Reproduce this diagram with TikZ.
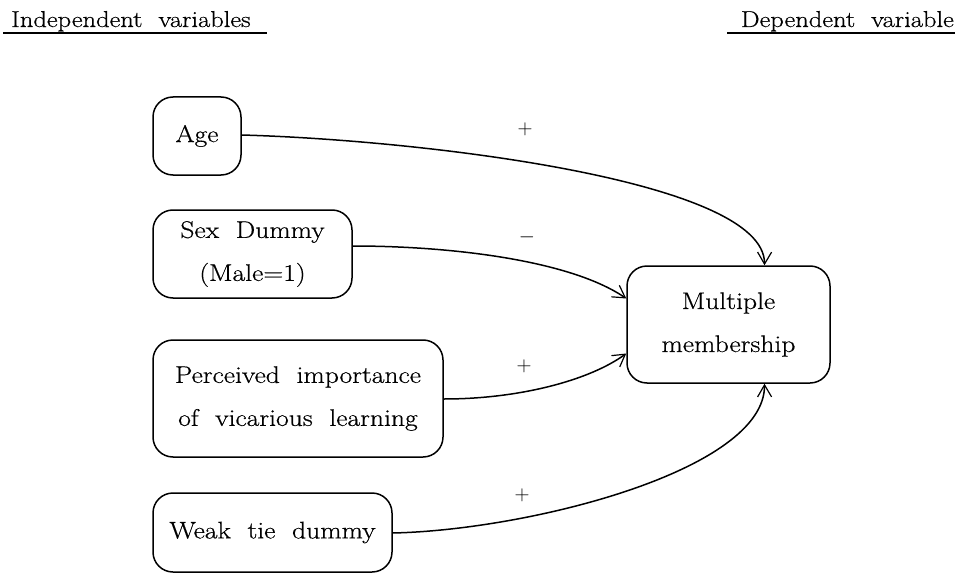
\documentclass[tikz,border=0pt]{standalone}
\usepackage{fontspec}
\setmainfont{Latin Modern Roman}[FakeStretch=1.15,FakeBold=0.6]
\usetikzlibrary{arrows.meta}
\begin{document}
\begin{tikzpicture}[x=1pt,y=-1pt,
  varbox/.style={draw, line width=1.5pt, rounded corners=20pt, align=center, inner sep=0pt, font=\fontsize{24}{43}\selectfont},
  head/.style={anchor=base west, inner sep=0pt, font=\fontsize{23}{26}\selectfont},
  sign/.style={inner sep=0pt, font=\fontsize{22}{24}\selectfont},
  conn/.style={line width=1.5pt, -{Straight Barb[length=12pt,width=14pt,line width=1.2pt]}},
  uline/.style={line width=1.2pt}]
\useasboundingbox (0,0) rectangle (961,575);
% headers
\node[head] (hi) at (11,27) {Independent\ \ variables};
\node[head, anchor=base east] (hd) at (954,27) {Dependent\ \ variable};
\coordinate (hiL) at (3,33); \coordinate (hiR) at (267,33);
\coordinate (hdL) at (727,33); \coordinate (hdR) at (955,33);
\draw[uline] (hiL) -- (hiR);
\draw[uline] (hdL) -- (hdR);
% boxes
\node[varbox, minimum width=88pt, minimum height=78pt] (age) at (197,136) {Age};
\node[varbox, minimum width=199pt, minimum height=88pt] (sex) at (252.5,254) {Sex\ \ Dummy\\(Male=1)};
\node[varbox, minimum width=290pt, minimum height=117pt] (per) at (298,398.5) {Perceived\ \ importance\\of\ \ vicarious\ \ learning};
\node[varbox, minimum width=239pt, minimum height=79pt] (weak) at (272.5,532.5) {Weak\ \ tie\ \ dummy};
\node[varbox, minimum width=203pt, minimum height=117pt] (mm) at (728.5,324.5) {Multiple\\membership};
% connectors
\draw[conn] ([yshift=1pt]age.east) .. controls (420,140) and (765,180) .. ([xshift=36pt]mm.north);
\draw[conn] ([yshift=8pt]sex.east) .. controls (450,246) and (570,260) .. ([yshift=26pt]mm.west);
\draw[conn] ([yshift=-0.5pt]per.east) .. controls (520,399) and (590,380) .. ([yshift=-29pt]mm.west);
\draw[conn] ([yshift=-0.5pt]weak.east) .. controls (530,530) and (765,470) .. ([xshift=36pt]mm.south);
% signs
\node[sign] (s1) at (525,129) {$+$};
\node[sign] (s2) at (527,237) {$-$};
\node[sign] (s3) at (524,366) {$+$};
\node[sign] (s4) at (522,495) {$+$};
\end{tikzpicture}
\end{document}
